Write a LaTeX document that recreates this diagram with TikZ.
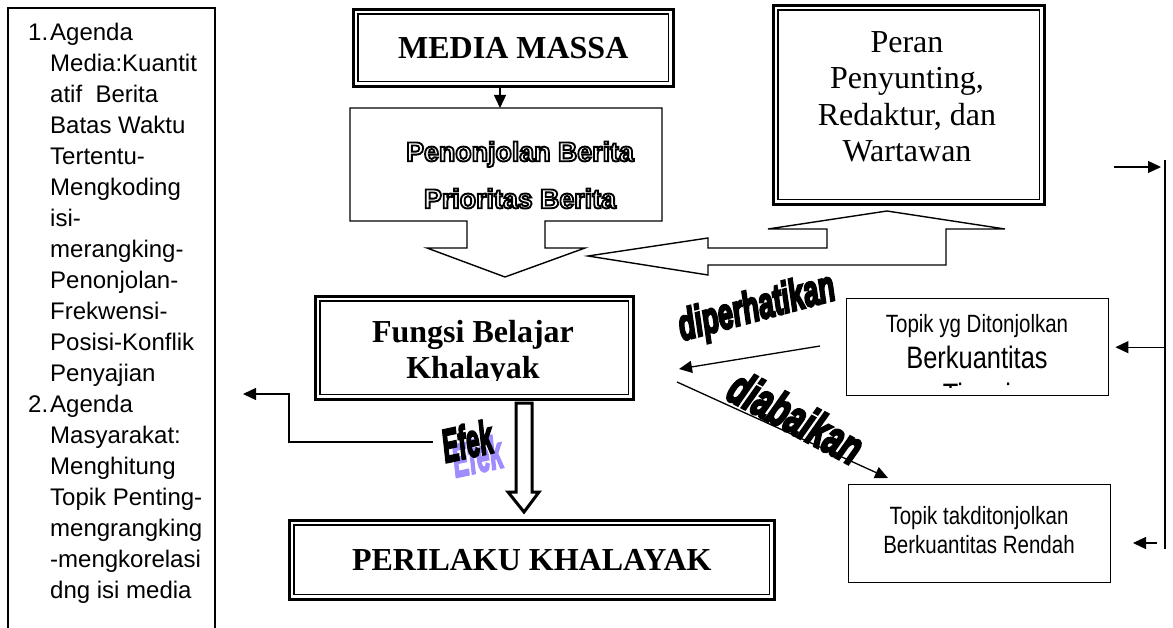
\documentclass[tikz,border=0pt]{standalone}
\usepackage{fontspec}
\setmainfont{Liberation Serif}
\newfontfamily\arialf{Liberation Sans}
\usetikzlibrary{arrows.meta,calc}
\definecolor{lilac}{RGB}{160,140,255}

% hollow (stroked) glyphs for the outlined heading
\newcommand\hollowtext[1]{\special{pdf:literal direct 1 Tr 1.8 w}#1\special{pdf:literal direct 0 Tr}}
% filled and stroked glyphs for the heavy slanted labels
\newcommand\heavytext[2]{\special{pdf:literal direct 2 Tr #1 w}#2\special{pdf:literal direct 0 Tr}}
\newcommand\agfont{\arialf\fontsize{24}{31}\selectfont}
\newcommand\narrowline[2]{\scalebox{0.82}[1]{\arialf\fontsize{#1}{#1}\selectfont #2}}
\newcommand\dframe[1]{\draw[innerframe] ($(#1.north west)+(6,6)$) rectangle ($(#1.south east)+(-6,-6)$);}

\tikzset{
  frame/.style={draw, line width=1.4pt},
  outerframe/.style={draw, line width=2.6pt, inner sep=0pt, anchor=north west},
  innerframe/.style={draw, line width=1.1pt},
  plainbox/.style={draw, line width=1.4pt, inner sep=0pt, anchor=north west},
  conn/.style={line width=1.3pt, -{Triangle[length=13pt,width=12pt]}},
  blockarrow/.style={draw, line width=1.4pt, line join=miter},
  serifbold/.style={font=\bfseries\fontsize{32}{36}\selectfont},
  wordart/.style={inner sep=0pt, font=\arialf\bfseries\itshape},
}

\begin{document}
\begin{tikzpicture}[x=1pt,y=-1pt]
\useasboundingbox (0,0) rectangle (1173,628);

% ---- agenda column (open at the bottom)
\draw[frame] (8,628) -- (8,8) -- (215,8) -- (215,628);
\node[anchor=north west, align=left, inner sep=0pt, font=\agfont] (agenda) at (28,22.5) {%
\makebox[22pt][l]{1.}Agenda\\
\hspace*{22pt}Media:Kuantit\\
\hspace*{22pt}atif\ \ Berita\\
\hspace*{22pt}Batas Waktu\\
\hspace*{22pt}Tertentu-\\
\hspace*{22pt}Mengkoding\\
\hspace*{22pt}isi-\\
\hspace*{22pt}merangking-\\
\hspace*{22pt}Penonjolan-\\
\hspace*{22pt}Frekwensi-\\
\hspace*{22pt}Posisi-Konflik\\
\hspace*{22pt}Penyajian\\
\makebox[22pt][l]{2.}Agenda\\
\hspace*{22pt}Masyarakat:\\
\hspace*{22pt}Menghitung\\
\hspace*{22pt}Topik Penting-\\
\hspace*{22pt}mengrangking\\
\hspace*{22pt}-mengkorelasi\\
\hspace*{22pt}dng isi media};

% ---- MEDIA MASSA
\node[outerframe, minimum width=320pt, minimum height=77pt, serifbold] (media) at (352,8) {MEDIA MASSA};
\dframe{media}

% ---- Penonjolan callout with downward arrow
\draw[blockarrow] (350,108) -- (662,108) -- (662,221) -- (545,221) -- (545,248) -- (585,248)
  -- (505,277) -- (427,248) -- (467,248) -- (467,221) -- (350,221) -- cycle;
\coordinate (penNW) at (350,108);
\node[inner sep=0pt, align=center, font=\arialf\bfseries\fontsize{26}{47}\selectfont] (pen) at (520,175)
  {\scalebox{1.03}[1.05]{\hollowtext{Penonjolan Berita}}\\\scalebox{1.03}[1.05]{\hollowtext{Prioritas Berita}}};
\coordinate (ax) at (500,0);
\draw[conn] (media.south -| ax) -- (penNW -| ax);

% ---- Peran box
\node[outerframe, minimum width=271pt, minimum height=199pt] (peran) at (772,4) {};
\dframe{peran}
\node[align=center, inner sep=0pt, anchor=north, font=\fontsize{32}{36.6}\selectfont] (perantext) at (907,31)
  {Peran\\Penyunting,\\Redaktur, dan\\Wartawan};

% ---- up / left block arrow under the Peran box
\draw[blockarrow] (887,211) -- (1005,229) -- (946,229) -- (946,265) -- (708,265) -- (708,275)
  -- (588,256) -- (708,238) -- (708,248) -- (827,248) -- (827,229) -- (768,229) -- cycle;

% ---- Fungsi Belajar Khalayak
\node[outerframe, minimum width=318pt, minimum height=103pt] (fungsi) at (314,295) {};
\dframe{fungsi}
\begin{scope}
  \clip ($(fungsi.north west)+(8,8)$) rectangle ($(fungsi.south east)+(-8,-20)$);
  \node[align=center, inner sep=0pt, anchor=north, serifbold] (fungsitext) at (473,320)
    {Fungsi Belajar\\Khalayak};
\end{scope}

% ---- hollow arrow down to PERILAKU
\draw[line width=3pt, line join=miter] (516,403) -- (532,403) -- (532,492) -- (539,492)
  -- (524,512) -- (508,492) -- (516,492) -- cycle;

% ---- PERILAKU KHALAYAK
\node[outerframe, minimum width=485pt, minimum height=79pt, serifbold] (perilaku) at (288,519) {PERILAKU KHALAYAK};
\dframe{perilaku}

% ---- Efek label and its connector to the agenda column
\node[wordart, rotate=12, text=lilac] (efekshadow) at (477,456)
  {\scalebox{0.8}[1.55]{\fontsize{30}{30}\selectfont\heavytext{1.2}{Efek}}};
\node[wordart, rotate=12] (efek) at (467,441)
  {\scalebox{0.8}[1.55]{\fontsize{30}{30}\selectfont\heavytext{1.6}{Efek}}};
\coordinate (efekL) at (433,442);
\coordinate (bend) at (289,394);
\coordinate (agendaR) at (243,394);
\draw[conn] (efekL) -| (bend) -- (agendaR);

% ---- topic boxes
\node[plainbox, minimum width=262pt, minimum height=97pt] (topA) at (846,298) {};
\begin{scope}
  \clip ($(topA.north west)+(2,2)$) rectangle ($(topA.south east)+(-2,-9)$);
  \node[anchor=base, inner sep=0pt] (topA1) at (977,333) {\narrowline{25}{Topik yg Ditonjolkan}};
  \node[anchor=base, inner sep=0pt] (topA2) at (977,369) {\narrowline{31}{Berkuantitas}};
  \node[anchor=base, inner sep=0pt] (topA3) at (977,405) {\narrowline{31}{Tinggi}};
\end{scope}

\node[plainbox, minimum width=262pt, minimum height=98pt] (topB) at (848,484) {};
\node[anchor=base, inner sep=0pt] (topB1) at (979,524) {\narrowline{25}{Topik takditonjolkan}};
\node[anchor=base, inner sep=0pt] (topB2) at (979,553) {\narrowline{25}{Berkuantitas Rendah}};

% ---- diperhatikan / diabaikan
\node[wordart, rotate=15] (dip) at (757,309)
  {\scalebox{0.9}[1.45]{\fontsize{30}{30}\selectfont\heavytext{1.8}{diperhatikan}}};
\node[wordart, rotate=-28] (dia) at (796,417)
  {\scalebox{0.92}[1.4]{\fontsize{34}{34}\selectfont\heavytext{2}{diabaikan}}};
\coordinate (dipS) at (820,346);
\coordinate (dipE) at (679,369);
\draw[conn] (dipS) -- (dipE);
\coordinate (diaS) at (677,382);
\coordinate (diaE) at (888,478);
\draw[conn] (diaS) -- (diaE);

% ---- feedback rail on the right
\coordinate (railT) at (1165,160);
\coordinate (railB) at (1165,549);
\draw[line width=1.4pt] (railT) -- (railB);
\coordinate (inS) at (1114,167);
\coordinate (inE) at (1161,167);
\draw[conn] (inS) -- (inE);
\draw[conn] (railT |- topA.east) -- ([xshift=6pt]topA.east);
\coordinate (outS) at (1157,543);
\coordinate (outE) at (1133,543);
\draw[conn] (outS) -- (outE);

\end{tikzpicture}
\end{document}
